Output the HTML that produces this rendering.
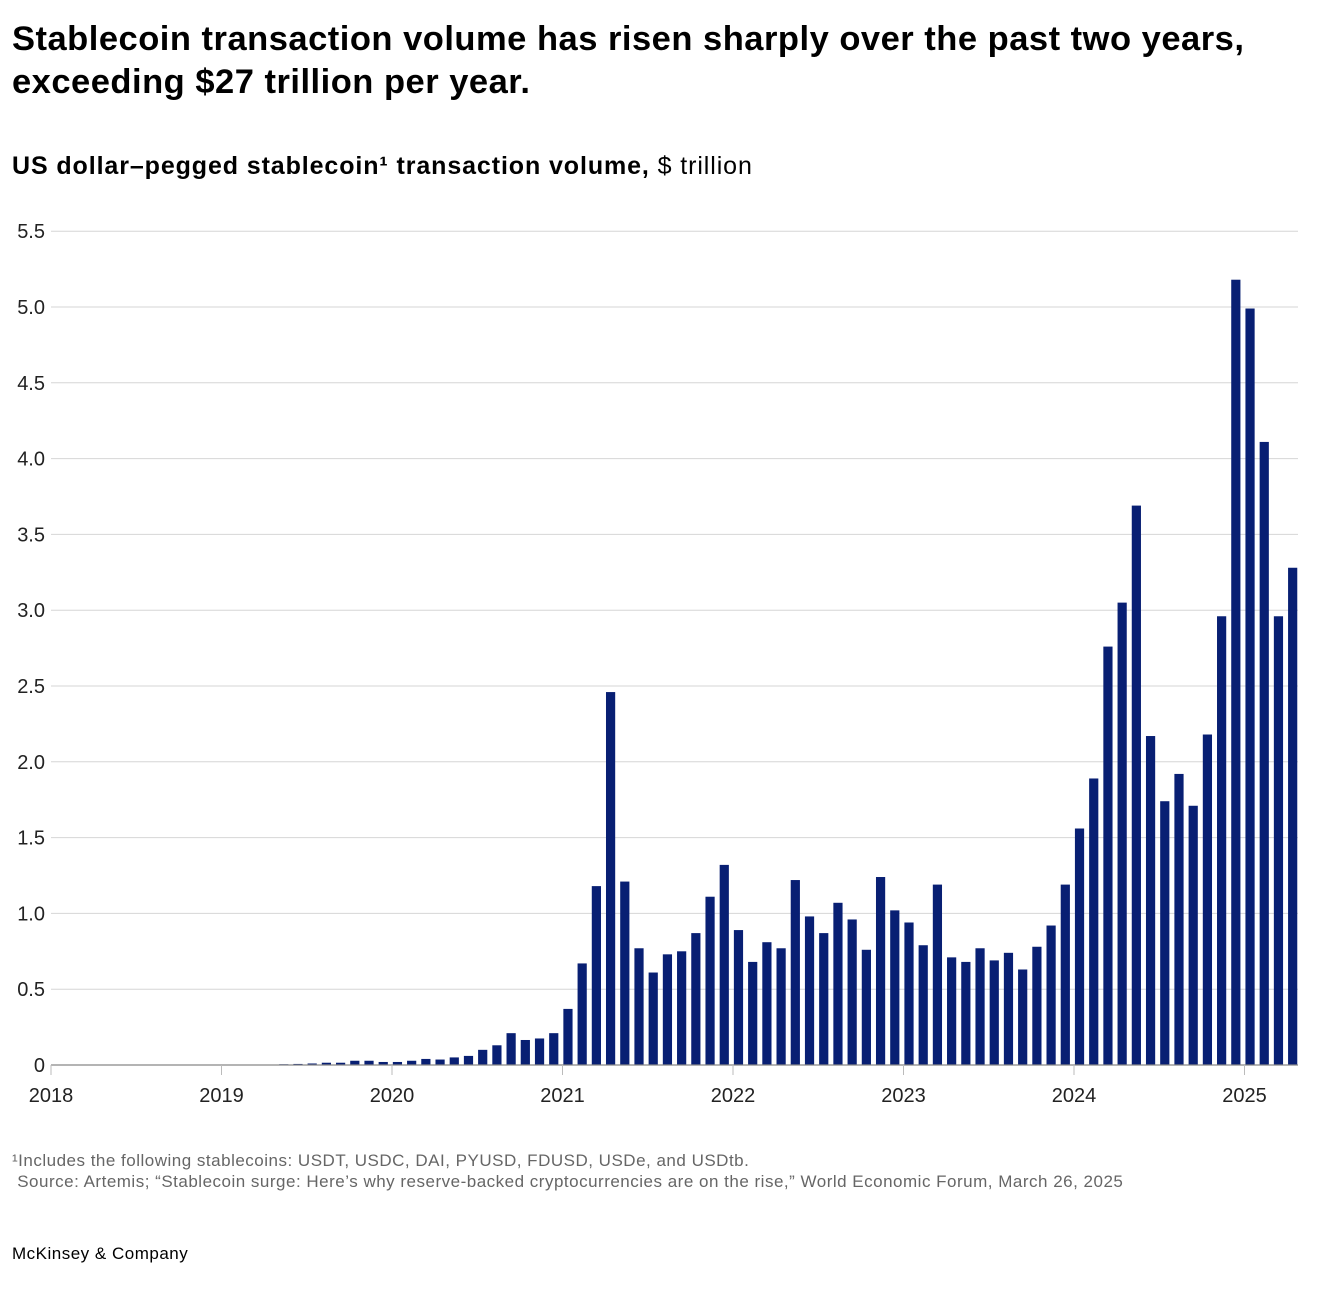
<!DOCTYPE html>
<html><head><meta charset="utf-8"><style>
body{margin:0;background:#fff;font-family:"Liberation Sans",sans-serif;color:#000;}
#wrap{position:relative;width:1322px;height:1306px;overflow:hidden;}
.t{position:absolute;white-space:nowrap;}
</style></head><body>
<div id="wrap">
<div class="t" style="left:12px;top:18px;font-size:34.5px;font-weight:bold;line-height:43px;letter-spacing:0.5px;">Stablecoin transaction volume has risen sharply over the past two years,<br>exceeding $27 trillion per year.</div>
<div class="t" style="left:12px;top:151px;font-size:25px;line-height:30px;letter-spacing:0.9px;"><b>US dollar–pegged stablecoin¹ transaction volume,</b> $ trillion</div>
<svg id="chart" width="1322" height="1130" style="position:absolute;left:0;top:0"></svg>
<div class="t" style="left:12px;top:1150px;font-size:17px;color:#666;line-height:21px;letter-spacing:0.5px;">¹Includes the following stablecoins: USDT, USDC, DAI, PYUSD, FDUSD, USDe, and USDtb.<br>&nbsp;Source: Artemis; “Stablecoin surge: Here’s why reserve-backed cryptocurrencies are on the rise,” World Economic Forum, March 26, 2025</div>
<div class="t" style="left:12px;top:1244px;font-size:17px;letter-spacing:0.5px;">McKinsey &amp; Company</div>
</div>
<script>
const values=[0,0,0,0,0,0,0,0,0,0,0,0,0.002,0.001,0.001,0.003,0.005,0.007,0.01,0.015,0.015,0.028,0.028,0.02,0.02,0.028,0.04,0.036,0.05,0.06,0.1,0.13,0.21,0.165,0.175,0.21,0.37,0.67,1.18,2.46,1.21,0.77,0.61,0.73,0.75,0.87,1.11,1.32,0.89,0.68,0.81,0.77,1.22,0.98,0.87,1.07,0.96,0.76,1.24,1.02,0.94,0.79,1.19,0.71,0.68,0.77,0.69,0.74,0.63,0.78,0.92,1.19,1.56,1.89,2.76,3.05,3.69,2.17,1.74,1.92,1.71,2.18,2.96,5.18,4.99,4.11,2.96,3.28];
const yTicks=[0,0.5,1,1.5,2,2.5,3,3.5,4,4.5,5,5.5];
const yTickLabels=["0","0.5","1.0","1.5","2.0","2.5","3.0","3.5","4.0","4.5","5.0","5.5"];
const years=["2018","2019","2020","2021","2022","2023","2024","2025"];
const NS="http://www.w3.org/2000/svg";
const svg=document.getElementById('chart');
const y0=1065,pxPer=151.6,x0=51,yearW=170.5,monthW=14.21;
const Y=v=>y0-v*pxPer;
const Xbar=i=>56.4+i*monthW;
const Xyear=k=>x0+k*yearW;
function mk(t,a){const e=document.createElementNS(NS,t);for(const k in a)e.setAttribute(k,a[k]);svg.appendChild(e);return e;}
yTicks.forEach((v,i)=>{
  if(v>0){const g=mk('line',{x1:51,x2:1298,y1:Y(v),y2:Y(v),stroke:'#d6d6d6','stroke-width':1});
  
  }
  const t=mk('text',{x:45,y:Y(v)+7,'text-anchor':'end','font-size':20,'font-family':'Liberation Sans, sans-serif',fill:'#222'});
  t.textContent=yTickLabels[i];
  
  
});
values.forEach((v,i)=>{
  const b=mk('rect',{x:Xbar(i)-4.6,y:Y(v),width:9.2,height:Math.max(0,v*pxPer),fill:'#081f73'});
  
  
});
const ax=mk('line',{x1:51,x2:1298,y1:y0,y2:y0,stroke:'#888','stroke-width':1.2});


years.forEach((yr,k)=>{
  const x=Xyear(k);
  const tk=mk('line',{x1:x,x2:x,y1:y0,y2:y0+10,stroke:'#bbb','stroke-width':1});
  
  
  const t=mk('text',{x:x,y:1102,'text-anchor':'middle','font-size':20,'font-family':'Liberation Sans, sans-serif',fill:'#222'});
  t.textContent=yr;
  
  
});
</script>
</body></html>
